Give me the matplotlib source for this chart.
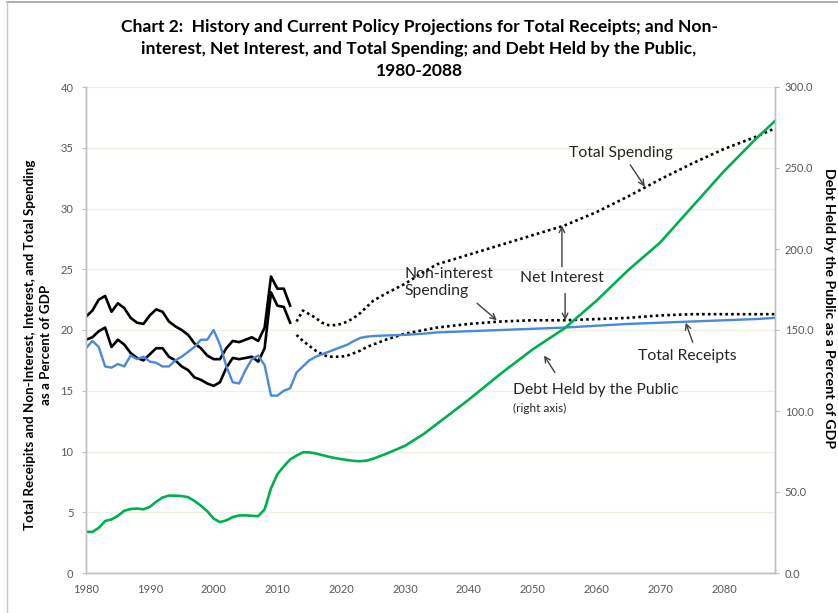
import matplotlib
matplotlib.use('Agg')
import matplotlib.pyplot as plt
from matplotlib.lines import Line2D

plt.rcParams['font.family'] = ['Lato', 'DejaVu Sans']

# ============ data (percent of GDP) ============
hist_years = list(range(1980, 2013))
hist_total = [21.1, 21.6, 22.5, 22.8, 21.5, 22.2, 21.8, 21.0, 20.6, 20.5,
              21.2, 21.7, 21.5, 20.7, 20.3, 20.0, 19.6, 18.9, 18.5, 17.9,
              17.6, 17.6, 18.5, 19.1, 19.0, 19.2, 19.4, 19.1, 20.2, 24.4,
              23.4, 23.4, 22.0]
hist_nonint = [19.2, 19.4, 19.9, 20.2, 18.6, 19.2, 18.8, 18.1, 17.7, 17.5,
               18.0, 18.5, 18.5, 17.8, 17.5, 17.0, 16.7, 16.1, 15.9, 15.6,
               15.4, 15.7, 16.9, 17.7, 17.6, 17.7, 17.8, 17.4, 18.5, 23.1,
               22.0, 21.9, 20.6]
hist_receipts = [18.5, 19.1, 18.6, 17.0, 16.9, 17.2, 17.0, 17.9, 17.6, 17.8,
                 17.4, 17.3, 17.0, 17.0, 17.5, 17.8, 18.2, 18.6, 19.2, 19.2,
                 20.0, 18.8, 17.0, 15.7, 15.6, 16.7, 17.6, 17.9, 17.1, 14.6,
                 14.6, 15.0, 15.2]
hist_debt = [25.5, 25.3, 27.9, 32.1, 33.1, 35.3, 38.4, 39.5, 39.8, 39.3,
             40.8, 44.0, 46.6, 47.8, 47.7, 47.5, 46.8, 44.5, 41.6, 38.2,
             33.6, 31.4, 32.5, 34.5, 35.5, 35.6, 35.3, 35.1, 39.3, 52.3,
             61.0, 65.8, 70.1]

proj_years = [2013, 2014, 2015, 2016, 2017, 2018, 2019, 2020, 2021, 2022,
              2023, 2024, 2025, 2027, 2030, 2033, 2035, 2040, 2045, 2050,
              2055, 2060, 2065, 2070, 2075, 2080, 2085, 2088]
proj_total = [20.7, 21.6, 21.3, 21.0, 20.6, 20.4, 20.4, 20.5, 20.7, 21.0,
              21.4, 21.9, 22.4, 23.0, 23.8, 24.8, 25.4, 26.2, 27.0, 27.8,
              28.6, 29.7, 31.0, 32.4, 33.7, 34.9, 35.9, 36.6]
proj_nonint = [19.6, 19.1, 18.7, 18.3, 18.0, 17.8, 17.8, 17.8, 17.9, 18.1,
               18.3, 18.6, 18.8, 19.2, 19.7, 20.0, 20.2, 20.5, 20.7, 20.8,
               20.8, 20.9, 21.0, 21.2, 21.3, 21.3, 21.3, 21.3]
proj_receipts = [16.5, 17.0, 17.5, 17.8, 18.0, 18.2, 18.4, 18.6, 18.8, 19.1,
                 19.35, 19.45, 19.5, 19.55, 19.6, 19.7, 19.8, 19.9, 20.0, 20.1,
                 20.2, 20.35, 20.5, 20.6, 20.7, 20.8, 20.9, 21.0]
proj_debt = [72.5, 74.5, 74.5, 73.8, 72.8, 71.8, 71.0, 70.3, 69.7, 69.2,
             69.0, 69.4, 70.5, 73.5, 78.5, 86.0, 92.0, 107.0, 123.0, 138.0,
             151.0, 168.0, 187.0, 204.0, 226.0, 248.0, 268.0, 279.0]

left_ticks = [0, 5, 10, 15, 20, 25, 30, 35, 40]
right_ticks = [0, 50, 100, 150, 200, 250, 300]
x_ticks = list(range(1980, 2081, 10))

BLUE = '#4a89d8'
GREEN = '#00b050'
GRAY = '#595959'

fig = plt.figure(figsize=(8.38, 6.13), dpi=100)
ax = fig.add_axes([86 / 838, 1 - 573 / 613, (775 - 86) / 838, (573 - 87) / 613])
ax2 = ax.twinx()

# spending and receipts (left axis)
ax.plot(hist_years, hist_total, color='black', lw=1.9, zorder=3)
ax.plot(hist_years, hist_nonint, color='black', lw=1.9, zorder=3)
ax.plot(proj_years, proj_total, color='black', lw=1.9, ls=(0, (1, 1.2)), zorder=3)
ax.plot(proj_years, proj_nonint, color='black', lw=1.9, ls=(0, (1, 1.2)), zorder=3)
ax.plot(hist_years + proj_years, hist_receipts + proj_receipts, color=BLUE, lw=1.7, zorder=3)

# debt (right axis)
ax2.plot(hist_years + proj_years, hist_debt + proj_debt, color=GREEN, lw=1.9)

ax.set_xlim(1980, 2088)
ax.set_ylim(0, 40)
ax2.set_ylim(0, 300)
ax.set_xticks(x_ticks)
ax.set_yticks(left_ticks)
ax2.set_yticks(right_ticks)
ax2.set_yticklabels([f'{v:.1f}' for v in right_ticks])

ax.grid(axis='y', color='#efefe2', lw=0.9)
ax.set_axisbelow(True)
for a in (ax, ax2):
    a.spines['top'].set_visible(False)
    for s in ('left', 'right', 'bottom'):
        a.spines[s].set_color('#bfbfbf')
        a.spines[s].set_linewidth(1.0)
ax.tick_params(axis='x', length=0, labelsize=8, colors=GRAY, pad=8)
ax.tick_params(axis='y', length=3, color='#bfbfbf', labelsize=8, labelcolor=GRAY, pad=6)
ax2.tick_params(axis='y', length=3, color='#bfbfbf', labelsize=8, labelcolor=GRAY, pad=4)

# titles and axis labels
fig.text(0.5, 1 - 19 / 613,
         'Chart 2:  History and Current Policy Projections for Total Receipts; and Non-\n'
         'interest, Net Interest, and Total Spending; and Debt Held by the Public,\n'
         '1980-2088',
         ha='center', va='top', fontsize=12.6, fontweight='bold', linespacing=1.45)
fig.text(38 / 838, 1 - 345 / 613,
         'Total Receipits and Non-Interest, Interest, and Total Spending\nas a Percent of GDP',
         rotation=90, ha='center', va='center', fontsize=9.6, fontweight='bold',
         linespacing=1.3)
fig.text(829 / 838, 1 - 308 / 613, 'Debt Held by the Public as a Percent of GDP',
         rotation=270, ha='center', va='center', fontsize=10.2, fontweight='bold')

# annotations
TXT = '#262626'
FS = 11.3
arrow = dict(arrowstyle='->', color='#404040', lw=1.0, shrinkA=0, shrinkB=0)
ax.text(2063.8, 34.6, 'Total Spending', ha='center', va='center', fontsize=FS, color=TXT)
ax.annotate('', xy=(2067.6, 31.8), xytext=(2065.3, 33.6), arrowprops=arrow)
ax.text(2054.6, 24.3, 'Net Interest', ha='center', va='center', fontsize=FS, color=TXT)
ax.annotate('', xy=(2054.6, 28.6), xytext=(2054.6, 25.2), arrowprops=arrow)
ax.annotate('', xy=(2055.1, 20.8), xytext=(2055.1, 23.0), arrowprops=arrow)
ax.text(2030.0, 23.9, 'Non-interest\nSpending', ha='left', va='center', fontsize=FS,
        color=TXT, linespacing=1.25)
ax.annotate('', xy=(2044.4, 20.8), xytext=(2041.3, 22.2), arrowprops=arrow)
ax.text(2074.3, 17.9, 'Total Receipts', ha='center', va='center', fontsize=FS, color=TXT)
ax.annotate('', xy=(2074.0, 20.6), xytext=(2075.1, 19.0), arrowprops=arrow)
ax.text(2047.0, 15.1, 'Debt Held by the Public', ha='left', va='center', fontsize=FS, color=TXT)
ax.text(2047.0, 13.5, '(right axis)', ha='left', va='center', fontsize=8.5, color=TXT)
ax.annotate('', xy=(2051.8, 17.9), xytext=(2053.5, 16.5), arrowprops=arrow)

# frame around the picture
fig.add_artist(Line2D([7 / 838, 1], [1 - 2 / 613] * 2, color='#a0a0a0', lw=1.2))
fig.add_artist(Line2D([7 / 838] * 2, [0, 1 - 2 / 613], color='#c8c8c8', lw=1.0))

fig.savefig('out.png', dpi=100)
